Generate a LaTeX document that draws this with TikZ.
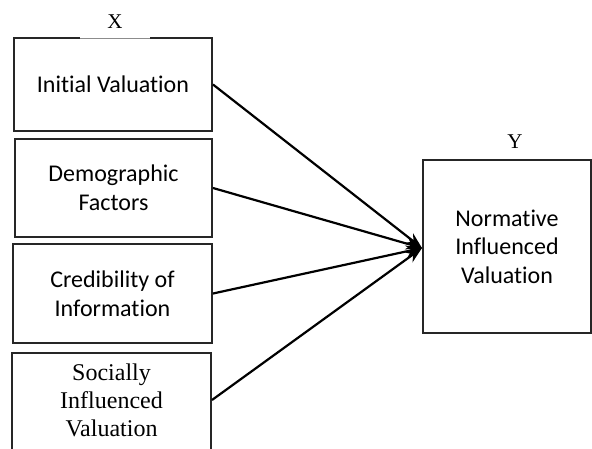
\documentclass[tikz,border=0pt]{standalone}
\usepackage{fontspec}
\setmainfont{Carlito}[Ligatures={NoCommon}]
\newfontfamily\serifx{Liberation Serif}
\usetikzlibrary{arrows.meta}
\tikzset{
  box/.style={draw=black!85, line width=2pt, inner sep=0pt, align=center,
    font=\fontsize{24}{28.5}\selectfont},
  conn/.style={line width=2.2pt, -{Stealth[length=16pt,width=12pt]}},
  lab/.style={font=\serifx\fontsize{21}{24}\selectfont, inner sep=0pt}
}
\begin{document}
\begin{tikzpicture}[x=1pt,y=-1pt]
\useasboundingbox (0,0) rectangle (592,448);
\clip (0,0) rectangle (592,448);
\node[box, minimum width=198pt, minimum height=93pt] (b1) at (113,84.5) {Initial Valuation};
\node[box, minimum width=197pt, minimum height=98pt] (b2) at (113.5,188) {Demographic\\Factors};
\node[box, minimum width=199pt, minimum height=99pt] (b3) at (112.5,293.5) {Credibility of\\Information};
\node[box, minimum width=199pt, minimum height=130pt] (b4) at (111.5,418) {};
\node[lab, align=center, font=\serifx\fontsize{24}{28}\selectfont, anchor=north] (t4) at (111.5,364) {Socially\\Influenced\\Valuation};
\node[box, minimum width=168pt, minimum height=173pt] (y) at (507,246.5) {Normative\\Influenced\\Valuation};
\draw[white, line width=2.4pt] (80,38) -- (150,38);
\draw[black!45, line width=1pt] (80,38) -- (150,38);
\node[lab] (xl) at (115,22) {X};
\node[lab] (yl) at (515,142) {Y};
\coordinate (tip) at (422,248);
\draw[conn] (b1.east) -- (tip);
\draw[conn] (b2.east) -- (tip);
\draw[conn] (b3.east) -- (tip);
\draw[conn] ([yshift=18pt]b4.east) -- (tip);
\end{tikzpicture}
\end{document}
